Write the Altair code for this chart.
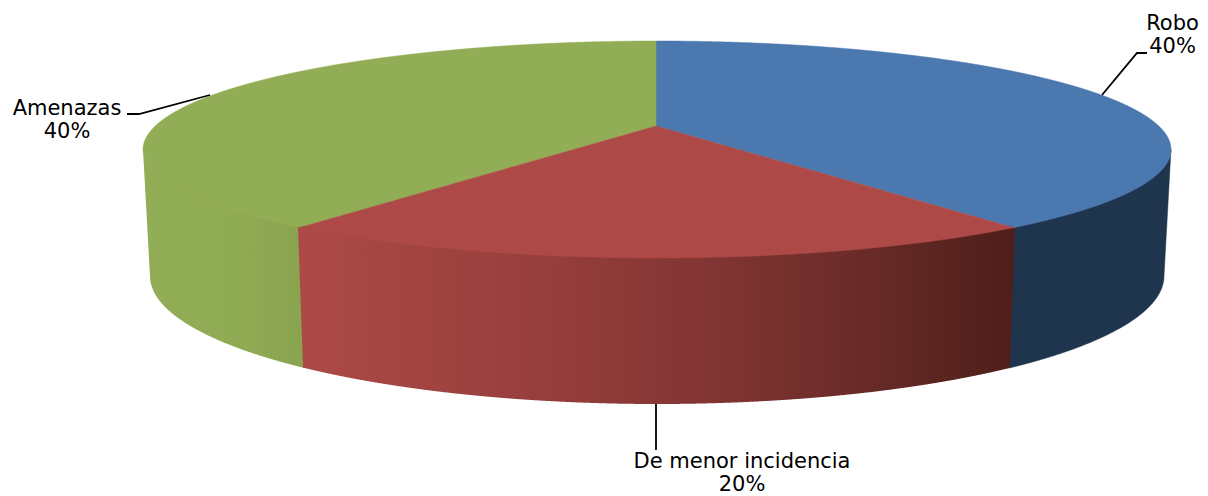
import altair as alt
import numpy as np
import pandas as pd

# Values
categories = ["Robo", "De menor incidencia", "Amenazas"]
shares = [40, 20, 40]
share_labels = ["40%", "20%", "40%"]

BLUE_TOP, RED_TOP, GREEN_TOP = "#4A78AF", "#AD4A47", "#91AD55"
BLUE_WALL = "#1F344D"
RED_WALL = [(0.0, "#AD4A47"), (0.35, "#963E3C"), (0.6, "#7F3432"), (0.8, "#682A27"), (1.0, "#4E1E1A")]
GREEN_WALL = [(0.0, "#91AD55"), (0.6, "#8FAB53"), (1.0, "#8AA34F")]

# Projection of the disc: top rim, bottom rim, apex, and where the slice edges meet the rims
TOP = dict(cx=657.0, cy=149.5, rx=514.0, ry=108.5)
BOT = dict(cx=657.0, cy=276.0, rx=507.0, ry=128.0)
APEX = (656.0, 126.0)
EDGE_TOP_R = (1015.0, 228.0)
EDGE_TOP_L = (298.0, 228.0)
EDGE_BOT_R = (1010.0, 365.5)
EDGE_BOT_L = (303.0, 367.0)

W, H = 1192, 488
XS = alt.Scale(domain=[8, 8 + W], nice=False, zero=False)
YS = alt.Scale(domain=[8 + H, 8], nice=False, zero=False)


def half(e, x):
    return e["ry"] * np.sqrt(np.clip(1 - ((x - e["cx"]) / e["rx"]) ** 2, 0, 1))


def lower(e, x):
    return e["cy"] + half(e, x)


def upper(e, x):
    return e["cy"] - half(e, x)


def under(x):
    # wall tops tuck slightly beneath the top face so no seam shows
    return TOP["cy"] + 0.97 * half(TOP, x)


def seg(x, a, b):
    return a[1] + (x - a[0]) * (b[1] - a[1]) / (b[0] - a[0])


def grid(x0, x1, *breaks):
    t = np.linspace(-np.pi / 2, np.pi / 2, 1441)
    g = TOP["cx"] + TOP["rx"] * np.sin(t)
    g2 = BOT["cx"] + BOT["rx"] * np.sin(t)
    xs = np.concatenate([g, g2, [x0, x1], breaks])
    return np.unique(xs[(xs >= x0) & (xs <= x1)])


def area(x, y, y2, color, stroke=None):
    df = pd.DataFrame({"x": x, "y": y, "y2": y2})
    kw = {"stroke": stroke, "strokeWidth": 0.5} if stroke else {}
    return alt.Chart(df).mark_area(color=color, interpolate="linear", **kw).encode(
        x=alt.X("x:Q", scale=XS, axis=None),
        y=alt.Y("y:Q", scale=YS, axis=None),
        y2="y2:Q",
    )


def grad(stops):
    return alt.Gradient(
        gradient="linear",
        stops=[alt.GradientStop(offset=o, color=c) for o, c in stops],
        x1=0, x2=1, y1=0, y2=0,
    )


LEFT_TOP_X = TOP["cx"] - TOP["rx"]
RIGHT_TOP_X = TOP["cx"] + TOP["rx"]
LEFT_BOT_X = BOT["cx"] - BOT["rx"]
RIGHT_BOT_X = BOT["cx"] + BOT["rx"]
LEFT_TOP = (LEFT_TOP_X, TOP["cy"])
LEFT_BOT = (LEFT_BOT_X, BOT["cy"])
RIGHT_TOP = (RIGHT_TOP_X, TOP["cy"])
RIGHT_BOT = (RIGHT_BOT_X, BOT["cy"])

# Walls
x = grid(LEFT_TOP_X, EDGE_BOT_L[0] + 1, LEFT_BOT_X)
y_bot = np.where(x < LEFT_BOT_X, seg(x, LEFT_TOP, LEFT_BOT), lower(BOT, x))
green_wall = area(x, under(x), y_bot, grad(GREEN_WALL))

x = grid(EDGE_BOT_R[0] - 1, RIGHT_TOP_X, RIGHT_BOT_X)
y_bot = np.where(x > RIGHT_BOT_X, seg(x, RIGHT_TOP, RIGHT_BOT), lower(BOT, x))
blue_wall = area(x, under(x), y_bot, BLUE_WALL, BLUE_WALL)

x = grid(EDGE_TOP_L[0], EDGE_TOP_R[0], EDGE_BOT_L[0], EDGE_BOT_R[0])
y_bot = lower(BOT, x)
y_bot = np.where(x < EDGE_BOT_L[0], seg(x, EDGE_TOP_L, EDGE_BOT_L), y_bot)
y_bot = np.where(x > EDGE_BOT_R[0], seg(x, EDGE_TOP_R, EDGE_BOT_R), y_bot)
red_wall = area(x, under(x), y_bot, grad(RED_WALL))

# Top faces
x = grid(APEX[0], RIGHT_TOP_X, EDGE_TOP_R[0])
y2 = np.where(x <= EDGE_TOP_R[0], seg(x, APEX, EDGE_TOP_R), lower(TOP, x))
blue_top = area(x, upper(TOP, x), y2, BLUE_TOP, BLUE_TOP)

x = grid(LEFT_TOP_X, APEX[0], EDGE_TOP_L[0])
y2 = np.where(x >= EDGE_TOP_L[0], seg(x, APEX, EDGE_TOP_L), lower(TOP, x))
green_top = area(x, upper(TOP, x), y2, GREEN_TOP, GREEN_TOP)

x = grid(EDGE_TOP_L[0], EDGE_TOP_R[0], APEX[0])
y1 = np.where(x <= APEX[0], seg(x, APEX, EDGE_TOP_L), seg(x, APEX, EDGE_TOP_R))
red_top = area(x, y1, lower(TOP, x), RED_TOP, RED_TOP)

# Leader lines
leaders = pd.DataFrame(
    {
        "cat": ["Robo"] * 3 + ["De menor incidencia"] * 2 + ["Amenazas"] * 3,
        "i": [0, 1, 2, 0, 1, 0, 1, 2],
        "x": [1102, 1137, 1147, 656, 656, 210, 139, 127],
        "y": [95, 53, 53, 404, 450, 95, 114, 114],
    }
)
leader = alt.Chart(leaders).mark_line(color="#000000", strokeWidth=1.8).encode(
    x=alt.X("x:Q", scale=XS, axis=None),
    y=alt.Y("y:Q", scale=YS, axis=None),
    detail="cat:N",
    order="i:Q",
)

# Labels
label_x = [1172.5, 742, 67]
name_y = [30, 468, 115]
pct_y = [53, 491, 138]
labels = pd.DataFrame(
    {
        "text": categories + share_labels,
        "x": label_x + label_x,
        "y": name_y + pct_y,
    }
)
text = alt.Chart(labels).mark_text(
    font="DejaVu Sans", fontSize=21, color="#000000", align="center", baseline="alphabetic"
).encode(
    x=alt.X("x:Q", scale=XS, axis=None),
    y=alt.Y("y:Q", scale=YS, axis=None),
    text="text:N",
)

chart = (
    alt.layer(green_wall, blue_wall, red_wall, blue_top, green_top, red_top, leader, text)
    .properties(
        width=W, height=H, padding=0,
        autosize=alt.AutoSizeParams(type="none"),
        background="#ffffff",
    )
    .configure_view(strokeWidth=0, stroke=None)
)
chart.save("out.html", embed_options={"renderer": "svg", "actions": False})
